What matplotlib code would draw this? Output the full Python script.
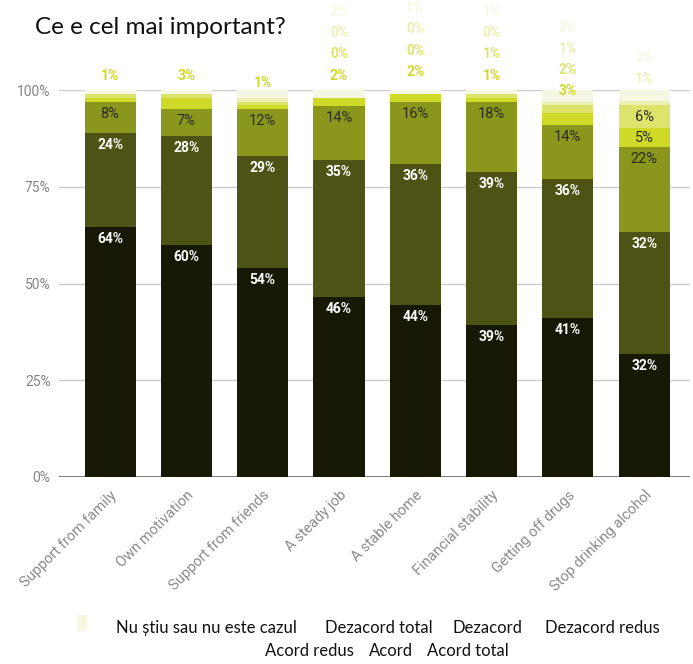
import numpy as np
import matplotlib
matplotlib.use("Agg")
import matplotlib.pyplot as plt
from matplotlib.patches import Rectangle

# ---- data -------------------------------------------------------------
categories = ["Support from family", "Own motivation", "Support from friends",
              "A steady job", "A stable home", "Financial stability",
              "Getting off drugs", "Stop drinking alcohol"]

# stacking order, bottom to top
series = ["Acord total", "Acord", "Acord redus", "Dezacord redus",
          "Dezacord", "Dezacord total", "Nu știu sau nu este cazul"]

acord_total    = [64, 60, 54, 46, 44, 39, 41, 32]
acord          = [24, 28, 29, 35, 36, 39, 36, 32]
acord_redus    = [8, 7, 12, 14, 16, 18, 14, 22]
dezacord_redus = [1, 3, 1, 2, 2, 1, 3, 5]
dezacord       = [1, 1, 1, 0, 0, 1, 2, 6]
dezacord_total = [0, 0, 1, 0, 0, 0, 1, 1]
nu_stiu        = [1, 1, 2, 2, 1, 1, 3, 3]

# how many of the small values get a label above each bar
labels_above = [1, 1, 1, 4, 4, 4, 4, 2]

# legend rows as they appear under the chart
legend_row1 = ["Nu știu sau nu este cazul", "Dezacord total", "Dezacord", "Dezacord redus"]
legend_row2 = ["Acord redus", "Acord", "Acord total"]

colors = ["#181806", "#4d5314", "#8b961d", "#cfd927",
          "#dde46b", "#ecf0b2", "#f6f7e3"]

values = np.array([acord_total, acord, acord_redus, dezacord_redus,
                   dezacord, dezacord_total, nu_stiu], dtype=float)
shares = values / values.sum(axis=0)

# ---- figure -----------------------------------------------------------
fig = plt.figure(figsize=(6.93, 6.64), dpi=100)
ax = fig.add_axes([59 / 693, 1 - 477 / 664, 631 / 693, 387 / 664])

x = np.arange(len(categories))
bottom = np.zeros(len(categories))
for i, name in enumerate(series):
    ax.bar(x, shares[i], 0.67, bottom=bottom, color=colors[i], label=name, zorder=3)
    bottom += shares[i]

# labels inside bars, sitting near the top of each segment
cum = np.cumsum(shares, axis=0)
for j in range(len(categories)):
    for i in range(len(series)):
        v = values[i, j]
        if v < 5:
            continue
        mid = cum[i, j] - shares[i, j] / 2
        ypos = max(mid, cum[i, j] - 0.031)
        if i < 2:
            ax.text(x[j], ypos, f"{v:.0f}%", ha="center", va="center", color="white",
                    fontsize=10, fontweight="bold", family="Roboto", zorder=4)
        else:
            ax.text(x[j], ypos, f"{v:.0f}%", ha="center", va="center", color="#2b2b1a",
                    fontsize=10.5, family="Roboto", zorder=4)

# small values stacked above the bars
for j in range(len(categories)):
    small = [i for i in range(len(series)) if values[i, j] < 5][:labels_above[j]]
    for k, i in enumerate(small):
        if k == 0:
            base = cum[i, j]
        ax.annotate(f"{values[i, j]:.0f}%", (x[j], base), xytext=(0, 16 + 15.2 * k),
                    textcoords="offset points", ha="center", va="center",
                    color=colors[i], fontsize=10, fontweight="bold", family="Roboto",
                    annotation_clip=False, zorder=4)

ax.set_xlim(-0.67, 7.6)
ax.set_ylim(0, 1)
ax.set_yticks([0, 0.25, 0.5, 0.75, 1.0])
ax.set_yticklabels(["0%", "25%", "50%", "75%", "100%"])
ax.set_xticks(x)
ax.set_xticklabels(categories, rotation=45, ha="right", rotation_mode="anchor")
for lab in ax.get_yticklabels():
    lab.set_family("Roboto")
    lab.set_fontsize(10)
    lab.set_color("#858585")
for lab in ax.get_xticklabels():
    lab.set_family("Roboto")
    lab.set_fontsize(10.5)
    lab.set_color("#8a8a8a")
ax.tick_params(length=0, pad=6)
ax.tick_params(axis="x", pad=8)
ax.grid(axis="y", color="#cccccc", linewidth=1, zorder=0)
for s in ax.spines.values():
    s.set_visible(False)
ax.axhline(0, color="#666666", linewidth=1.2, zorder=2)

# title
fig.text(35 / 693, 1 - 28 / 664, "Ce e cel mai important?", ha="left", va="center",
         fontsize=17.5, family="Lato", color="#111111")

# legend (only the first marker is visible in the original)
fig.patches.append(Rectangle((77 / 693, 1 - 630 / 664), 9 / 693, 15 / 664,
                             transform=fig.transFigure, color=colors[-1]))
row1_x = [116, 325, 453, 545]
row2_x = [265, 369, 427]
for name, px in zip(legend_row1, row1_x):
    fig.text(px / 693, 1 - 628 / 664, name, ha="left", va="center",
             fontsize=12, family="Lato", color="#111111")
for name, px in zip(legend_row2, row2_x):
    fig.text(px / 693, 1 - 651 / 664, name, ha="left", va="center",
             fontsize=12, family="Lato", color="#111111")

fig.savefig("out.png", dpi=100)
